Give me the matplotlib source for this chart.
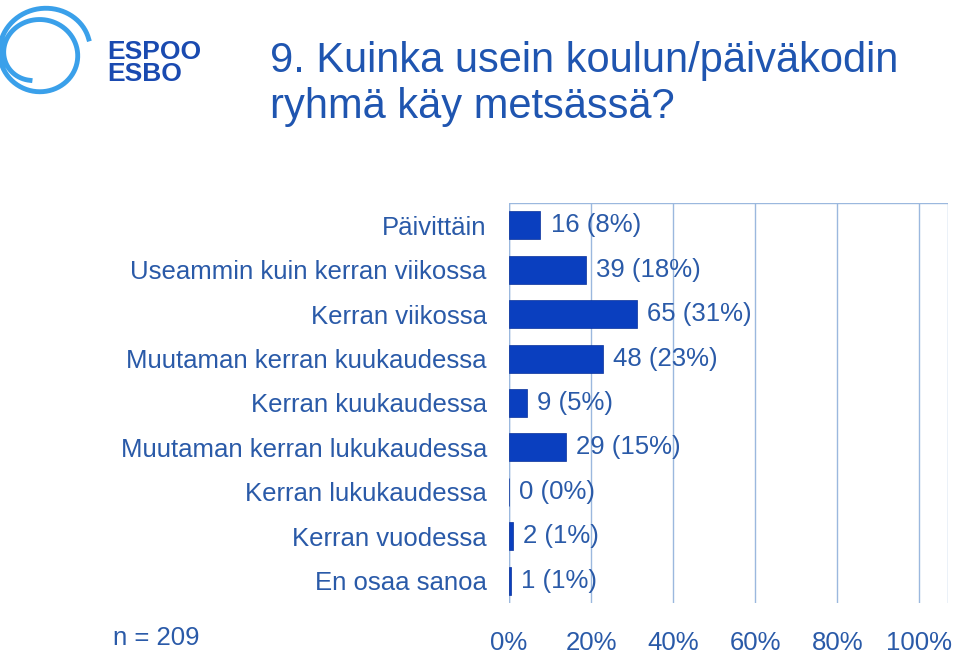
import matplotlib
matplotlib.use("Agg")
import matplotlib.pyplot as plt
import numpy as np

categories = ["Päivittäin", "Useammin kuin kerran viikossa", "Kerran viikossa",
              "Muutaman kerran kuukaudessa", "Kerran kuukaudessa",
              "Muutaman kerran lukukaudessa", "Kerran lukukaudessa",
              "Kerran vuodessa", "En osaa sanoa"]
counts = [16, 39, 65, 48, 9, 29, 0, 2, 1]
percents = [8, 18, 31, 23, 5, 15, 0, 1, 1]
n_total = 209
xticks = [0, 20, 40, 60, 80, 100]

txt = "#2a5aa8"
fs = 18.5
plt.rcParams["font.family"] = "Liberation Sans"
fig = plt.figure(figsize=(9.59, 6.53), dpi=100)
ax = fig.add_axes([509/959, 50/653, 439/959, 400/653])
y = np.arange(len(categories))
vals = [c / n_total * 100 for c in counts]
ax.barh(y, vals, height=0.63, color="#0a3fbf", edgecolor="#08309a", linewidth=0.5, zorder=3)
for yi, v, c, p in zip(y, vals, counts, percents):
    ax.text(v + 2.5, yi, f"{c} ({p}%)", va="center", ha="left", fontsize=fs, color=txt, zorder=4)
ax.set_ylim(len(categories) - 0.5, -0.5)
ax.set_xlim(0, 107)
ax.set_yticks(y)
ax.set_yticklabels(categories, fontsize=fs, color=txt)
ax.set_xticks(xticks)
ax.set_xticklabels([f"{t}%" for t in xticks], fontsize=fs, color=txt)
ax.tick_params(length=0, pad=16)
ax.tick_params(axis="x", pad=20)
ax.grid(axis="x", color="#9bb8de", linewidth=1, zorder=0)
for s in ax.spines.values():
    s.set_visible(False)
ax.axhline(-0.5, color="#9bb8de", linewidth=1)
ax.axvline(107, color="#9bb8de", linewidth=1)
ax.axvline(0, color="#9bb8de", linewidth=1)

fig.text(270/959, 1 - 84/653, "9. Kuinka usein koulun/päiväkodin\nryhmä käy metsässä?",
         fontsize=30, color="#1f55b0", va="center", ha="left", linespacing=1.2)
fig.text(113/959, 1 - 638/653, f"n = {n_total}", fontsize=fs, color=txt, va="center")

# logo
lax = fig.add_axes([0, 1 - 100/653, 100/959, 100/653])
lax.set_xlim(0, 100); lax.set_ylim(100, 0); lax.axis("off")
t = np.linspace(0.3, 2 * np.pi * 1.75, 400)
r = 36 + 8 * np.sin(t * 0.5)
xs = 52 + np.cos(t) * (r * 1.05) - t * 2
ys = 50 - np.sin(t) * r
lax.plot(xs, ys, color="#3aa0ea", linewidth=3.5)
fig.text(107/959, 1 - 52/653, "ESPOO", fontsize=19, fontweight="bold", color="#1a4ab0", va="center")
fig.text(107/959, 1 - 74/653, "ESBO", fontsize=19, fontweight="bold", color="#1a4ab0", va="center")

fig.savefig("out.png", dpi=100)
